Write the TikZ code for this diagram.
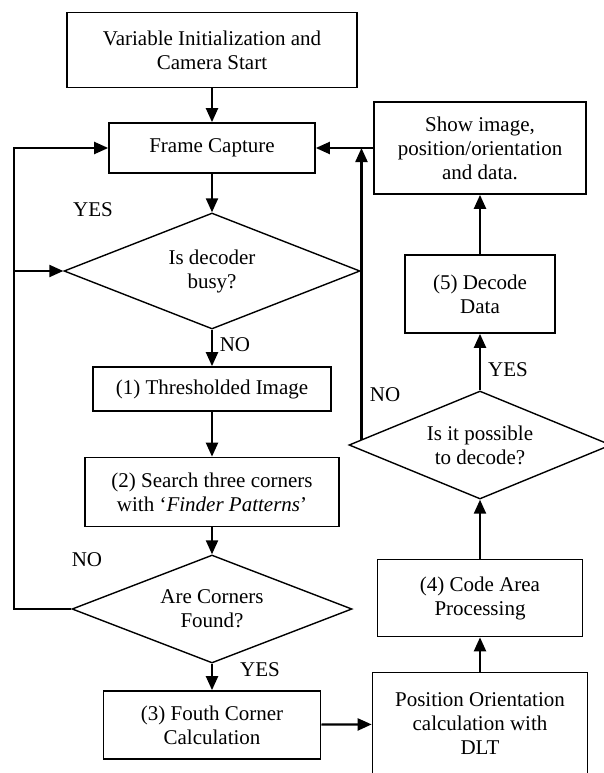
\documentclass[tikz,border=0pt]{standalone}
\usepackage{fontspec}
\setmainfont{Liberation Serif}
\usetikzlibrary{shapes.geometric,arrows.meta,calc}

\tikzset{
	caixa/.style={draw, line width=1.7pt, align=center, inner sep=0pt},
	losango/.style={draw, diamond, aspect=2.5, line width=1.4pt, align=center, inner sep=0pt},
	seta/.style={line width=2.2pt, -{Triangle[length=14pt,width=12pt]}},
	rotulo/.style={inner sep=0pt}
}

\begin{document}
\begin{tikzpicture}[x=1pt, y=-1pt, font=\fontsize{21}{24}\selectfont]
	\useasboundingbox (0,0) rectangle (604,773);

% coluna esquerda
	\node[caixa, minimum width=290pt, minimum height=75pt] (ini) at (212,50) {Variable Initialization and\\Camera Start};
	\node[caixa, minimum width=206pt, minimum height=50pt] (frame) at (212,148) {Frame Capture};
	\node[losango, minimum width=296pt, minimum height=116pt] (busy) at (212,271) {Is decoder\\busy?};
	\node[caixa, minimum width=238pt, minimum height=44pt] (thr) at (212,389) {(1) Thresholded Image};
	\node[caixa, minimum width=254pt, minimum height=69pt] (search) at (212,492) {(2) Search three corners\\with `\textit{Finder Patterns}'};
	\node[losango, minimum width=280pt, minimum height=108pt] (corners) at (212,609) {Are Corners\\Found?};
	\node[caixa, minimum width=217pt, minimum height=68pt] (fouth) at (212,725) {(3) Fouth Corner\\Calculation};

% coluna direita
	\node[caixa, minimum width=212pt, minimum height=92pt] (show) at (480,148) {Show image,\\position/orientation\\and data.};
	\node[caixa, minimum width=150pt, minimum height=78pt] (decode) at (480,294) {(5) Decode\\Data};
	\node[losango, minimum width=262pt, minimum height=108pt] (possible) at (480,445) {Is it possible\\to decode?};
	\node[caixa, minimum width=205pt, minimum height=77pt] (area) at (480,598) {(4) Code Area\\Processing};
	\node[caixa, minimum width=215pt, minimum height=103pt] (dlt) at (480,724) {Position Orientation\\calculation with\\DLT};

% rotulos
	\node[rotulo] (yes1) at (93,210) {YES};
	\node[rotulo] (no1) at (235,345) {NO};
	\node[rotulo] (no2) at (87,560) {NO};
	\node[rotulo] (yes2) at (260,670) {YES};
	\node[rotulo] (yes3) at (508,370) {YES};
	\node[rotulo] (no3) at (385,395) {NO};

% setas
	\foreach \a/\b in {ini/frame, frame/busy, busy/thr, thr/search, search/corners, corners/fouth,
		fouth/dlt, dlt/area, area/possible, possible/decode, decode/show, show/frame}
		\draw[seta] (\a) -- (\b);

% retorno pela esquerda
	\coordinate (lb) at (14,609);
	\coordinate (lt) at (14,148);
	\draw[seta] (corners.west) -- (lb) -- (lt) -- (frame.west);
	\draw[seta] (lb |- busy.west) -- (busy.west);

% retorno NO
	\coordinate (nb) at ($(possible.west)!0.1!(possible.north)$);
	\draw[seta] (nb) -- (nb |- show.west);
\end{tikzpicture}
\end{document}
